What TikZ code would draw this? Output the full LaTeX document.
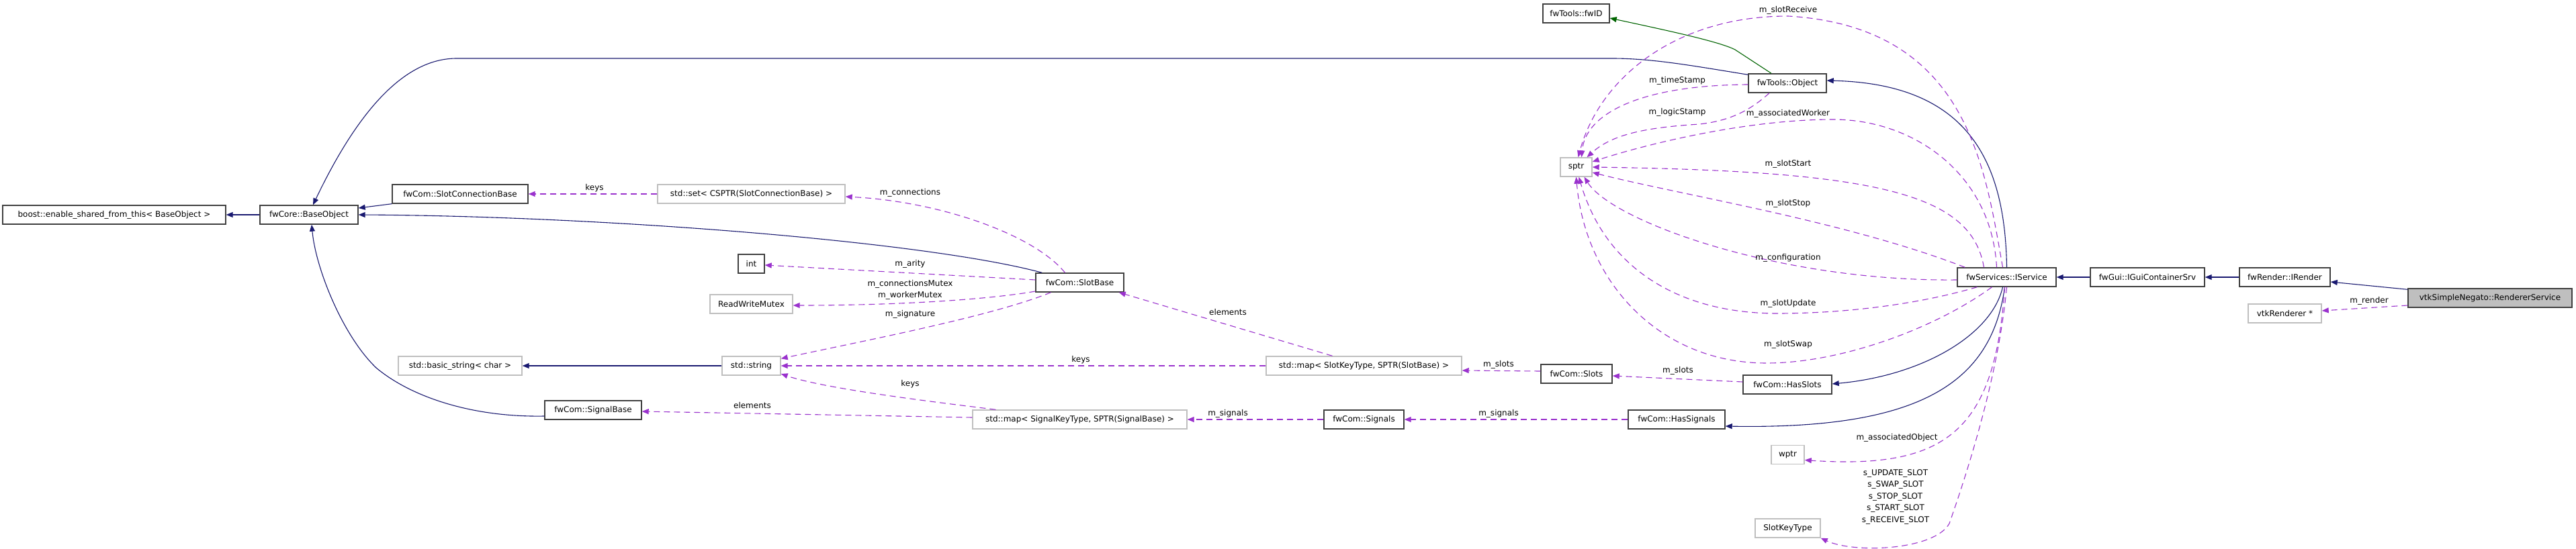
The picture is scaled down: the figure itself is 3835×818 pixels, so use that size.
\documentclass[tikz,border=0pt]{standalone}
\usepackage{fontspec}
\setmainfont{DejaVu Sans}
\usepackage{tikz}
\usetikzlibrary{arrows.meta,positioning}
\definecolor{inhBlue}{RGB}{25,25,112}
\definecolor{protGreen}{RGB}{0,100,0}
\definecolor{useViolet}{RGB}{154,50,205}
\definecolor{boxGray}{RGB}{191,191,191}
\definecolor{edgeGray}{RGB}{64,64,64}
\newcommand\doxyfont{\fontsize{12}{17}\selectfont}

\begin{document}
\begin{tikzpicture}[x=1pt,y=-1pt,
  cls/.style={draw=edgeGray, line width=1.4pt, fill=white,
              minimum height=28pt, inner sep=1pt, font=\doxyfont},
  ext/.style={cls, draw=boxGray},
  lbl/.style={font=\doxyfont, inner sep=0pt, align=center},
  inh/.style={inhBlue, line width=1.1pt, -{Triangle[length=10pt,width=8pt]}},
  prot/.style={inh, protGreen},
  dep/.style={useViolet, line width=1.1pt, dash pattern=on 9pt off 6pt,
              -{Triangle[length=10pt,width=8pt]}}]
  \fill[white] (0,0) rectangle (3835,818);
  \useasboundingbox (0,0) rectangle (3835,818);
  % Classes, left part
  \node[cls, minimum width=332pt] (boost) at (170,320)
    {boost::enable\_shared\_from\_this< BaseObject >};
  \node[cls, minimum width=146pt] (baseobj) at (460,320) {fwCore::BaseObject};
  \node[cls, minimum width=202pt] (slotconn) at (685,289) {fwCom::SlotConnectionBase};
  \node[ext, minimum width=279pt] (connset) at (1118.5,289)
    {std::set< CSPTR(SlotConnectionBase) >};
  \node[cls, minimum width=39pt] (inttype) at (1118.5,393) {int};
  \node[ext, minimum width=123pt] (rwmutex) at (1118.5,453) {ReadWriteMutex};
  \node[cls, minimum width=131pt] (slotbase) at (1607.5,421) {fwCom::SlotBase};
  \node[ext, minimum width=184pt] (basicstr) at (685,545) {std::basic\_string< char >};
  \node[ext, minimum width=87pt] (stdstr) at (1118.5,545) {std::string};
  \node[cls, minimum width=144pt] (signalbase) at (883,611) {fwCom::SignalBase};
  \node[ext, minimum width=319pt] (signalmap) at (1607.5,625)
    {std::map< SignalKeyType, SPTR(SignalBase) >};
  \node[ext, minimum width=291pt] (slotmap) at (2030.5,545)
    {std::map< SlotKeyType, SPTR(SlotBase) >};
  \node[cls, minimum width=119pt] (signals) at (2030.5,625) {fwCom::Signals};
  % Classes, right part
  \node[cls, minimum width=106pt] (slots) at (2347,557) {fwCom::Slots};
  \node[cls, minimum width=132pt] (hasslots) at (2661,573) {fwCom::HasSlots};
  \node[cls, minimum width=144pt] (hassignals) at (2496,625) {fwCom::HasSignals};
  \node[cls, minimum width=99pt] (fwid) at (2346.5,20) {fwTools::fwID};
  \node[cls, minimum width=116pt] (object) at (2661,124) {fwTools::Object};
  \node[ext, minimum width=47pt] (sptr) at (2346.5,249) {sptr};
  \node[cls, minimum width=147pt] (iservice) at (2987.5,413) {fwServices::IService};
  \node[cls, minimum width=170pt] (iguicont) at (3197,413) {fwGui::IGuiContainerSrv};
  \node[cls, minimum width=135pt] (irender) at (3401.5,413) {fwRender::IRender};
  \node[cls, fill=boxGray, minimum width=244pt] (renderer) at (3707,444)
    {vtkSimpleNegato::RendererService};
  \node[ext, minimum width=109pt] (vtkren) at (3401.5,467) {vtkRenderer *};
  \node[ext, minimum width=49pt] (wptr) at (2661.5,677.5) {wptr};
  \node[ext, minimum width=97pt] (slotkey) at (2661.5,787) {SlotKeyType};
  % Inheritance
  \draw[inh] (baseobj.west) -- (boost.east);
  \draw[inh] (slotconn.south west) -- ([yshift=10pt]baseobj.east);
  \draw[inh] ([xshift=10pt]slotbase.north west) .. controls (1380,360) and (900,322) .. (baseobj.east);
  \draw[inh] ([yshift=-2pt]object.north west) .. controls (2520,98) and (2460,87) .. (2400,87)
    -- (680,87) .. controls (610,87) and (540,150) .. ([xshift=6pt]baseobj.north);
  \draw[inh] ([yshift=-9pt]signalbase.west) .. controls (700,622) and (610,590) .. (560,548)
    .. controls (510,500) and (470,400) .. ([xshift=4pt]baseobj.south);
  \draw[inh] (stdstr.west) -- (basicstr.east);
  \draw[inh] (iservice.north) .. controls (2985,240) and (2930,125) .. ([yshift=4pt]object.east);
  \draw[inh] (iguicont.west) -- (iservice.east);
  \draw[inh] (irender.west) -- (iguicont.east);
  \draw[inh] ([yshift=-2pt]renderer.north west) -- ([yshift=-7pt]irender.east);
  \draw[inh] ([xshift=-6pt]iservice.south) .. controls (2965,500) and (2860,560) .. ([yshift=1pt]hasslots.east);
  \draw[inh] ([xshift=-3pt]iservice.south) .. controls (2965,570) and (2860,640) .. ([yshift=-10pt]hassignals.east);
  \draw[prot] ([xshift=-24pt]object.north) -- (2583,74) .. controls (2560,62) and (2480,45) .. ([yshift=-7pt]fwid.east);
  % Usage, left part
  \draw[dep] (connset.west) -- (slotconn.east);
  \draw[dep] ([xshift=-22pt]slotbase.north) .. controls (1540,350) and (1400,300) .. ([yshift=-4pt]connset.east);
  \draw[dep] ([yshift=4pt]slotbase.west) -- ([yshift=-2pt]inttype.east);
  \draw[dep] ([yshift=-13pt]slotbase.west) .. controls (1480,445) and (1350,455) .. ([yshift=-2pt]rwmutex.east);
  \draw[dep] ([xshift=-43pt]slotbase.south) .. controls (1480,470) and (1300,505) .. ([yshift=-4pt]stdstr.north east);
  \draw[dep] ([xshift=-47pt]slotmap.north) -- ([xshift=-8pt]slotbase.south east);
  \draw[dep] (slotmap.west) -- (stdstr.east);
  \draw[dep] ([xshift=35pt]signalmap.north west) .. controls (1400,600) and (1230,580) .. ([yshift=-12pt]stdstr.east);
  \draw[dep] ([yshift=3pt]signalmap.west) -- ([yshift=-2pt]signalbase.east);
  \draw[dep] ([yshift=4pt]slots.west) -- ([yshift=-7pt]slotmap.east);
  \draw[dep] (signals.west) -- (signalmap.east);
  \draw[dep] ([yshift=4pt]hasslots.west) -- ([yshift=-3pt]slots.east);
  \draw[dep] (hassignals.west) -- (signals.east);
  % Usage, towards sptr
  \draw[dep] ([yshift=-2pt]object.west) .. controls (2440,127) and (2360,170) .. ([xshift=8pt]sptr.north);
  \draw[dep] ([xshift=-27pt]object.south) .. controls (2605,165) and (2575,180) .. (2530,185)
    .. controls (2450,190) and (2400,200) .. ([xshift=16pt]sptr.north);
  \draw[dep] ([xshift=-6pt]iservice.north) .. controls (2955,250) and (2930,40) .. (2662,24)
    .. controls (2490,24) and (2380,120) .. ([xshift=3pt]sptr.north);
  \draw[dep] ([xshift=-15pt]iservice.north) .. controls (2965,260) and (2850,178) .. (2729,178)
    .. controls (2600,178) and (2450,215) .. ([yshift=8pt]sptr.east);
  \draw[dep] ([xshift=-34pt]iservice.north) .. controls (2935,290) and (2800,255) .. (sptr.east);
  \draw[dep] ([xshift=12pt]iservice.north west) .. controls (2750,330) and (2500,290) .. ([yshift=-8pt]sptr.east);
  \draw[dep] ([yshift=-4pt]iservice.west) .. controls (2650,420) and (2400,330) .. ([xshift=12pt]sptr.south);
  \draw[dep] ([xshift=-44pt]iservice.south) .. controls (2850,455) and (2740,467) .. (2646,467)
    .. controls (2500,467) and (2390,400) .. ([xshift=4pt]sptr.south);
  \draw[dep] ([xshift=-22pt]iservice.south) .. controls (2880,490) and (2740,541) .. (2630,541)
    .. controls (2470,541) and (2360,420) .. (sptr.south);
  % Usage, below and right
  \draw[dep] ([xshift=-3pt]iservice.south) .. controls (2970,640) and (2900,700) .. ([yshift=-8pt]wptr.east);
  \draw[dep] (iservice.south) .. controls (2975,560) and (2930,700) .. (2902,780)
    .. controls (2880,820) and (2760,825) .. (slotkey.south east);
  \draw[dep] ([yshift=-11pt]renderer.west) -- ([yshift=4pt]vtkren.east);
  % Labels
  \node[lbl] (l-keys) at (885,280) {keys};
  \node[lbl] (l-conn) at (1355,287) {m\_connections};
  \node[lbl] (l-arity) at (1355,393) {m\_arity};
  \node[lbl] (l-mutex) at (1355,431.5) {m\_connectionsMutex\\m\_workerMutex};
  \node[lbl] (l-sig) at (1355,468) {m\_signature};
  \node[lbl] (l-elem1) at (1828,465) {elements};
  \node[lbl] (l-keys2) at (1609,536) {keys};
  \node[lbl] (l-keys3) at (1355,572) {keys};
  \node[lbl] (l-elem2) at (1120,604) {elements};
  \node[lbl] (l-slots1) at (2231,543) {m\_slots};
  \node[lbl] (l-signals1) at (1828,616) {m\_signals};
  \node[lbl] (l-slots2) at (2498,552) {m\_slots};
  \node[lbl] (l-signals2) at (2231,616) {m\_signals};
  \node[lbl] (l-time) at (2497,120) {m\_timeStamp};
  \node[lbl] (l-logic) at (2497,167) {m\_logicStamp};
  \node[lbl] (l-receive) at (2662,15) {m\_slotReceive};
  \node[lbl] (l-worker) at (2662,169) {m\_associatedWorker};
  \node[lbl] (l-start) at (2662,244) {m\_slotStart};
  \node[lbl] (l-stop) at (2662,303) {m\_slotStop};
  \node[lbl] (l-config) at (2662,384) {m\_configuration};
  \node[lbl] (l-update) at (2662,452) {m\_slotUpdate};
  \node[lbl] (l-swap) at (2662,513) {m\_slotSwap};
  \node[lbl] (l-assoc) at (2824,652) {m\_associatedObject};
  \node[lbl, font=\fontsize{12}{17.5}\selectfont] (l-keyslots) at (2822,740)
    {s\_UPDATE\_SLOT\\s\_SWAP\_SLOT\\s\_STOP\_SLOT\\s\_START\_SLOT\\s\_RECEIVE\_SLOT};
  \node[lbl] (l-render) at (3527,448) {m\_render};
\end{tikzpicture}
\end{document}
